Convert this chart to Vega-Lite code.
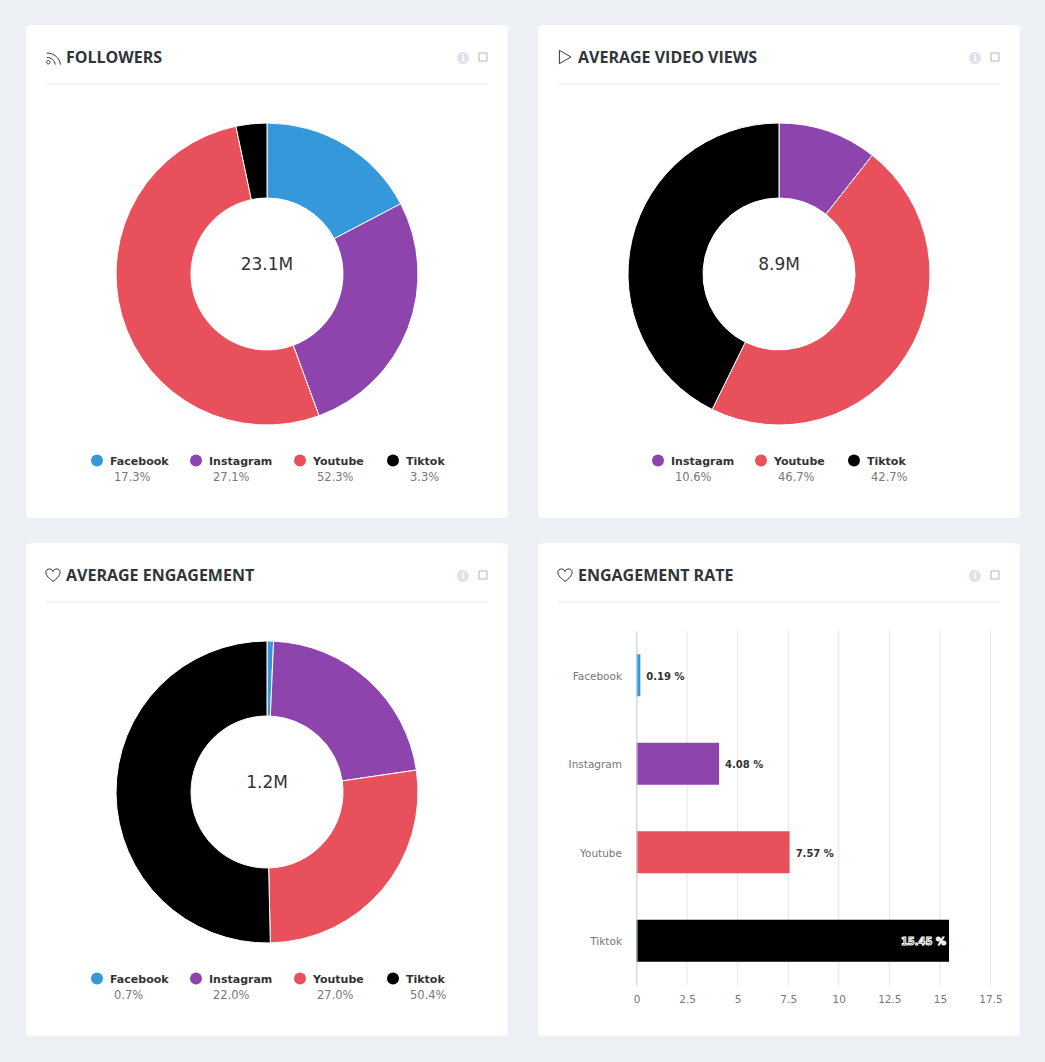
{
"$schema":"https://vega.github.io/schema/vega-lite/v6.json",
"background":"#edf1f6",
"padding":{"left":26,"top":25,"right":25,"bottom":26},
"config":{"font":"DejaVu Sans","view":{"fill":"white","stroke":null,"cornerRadius":4},"title":{"font":"Open Sans","fontSize":16,"fontWeight":"bold","color":"#2f353b","anchor":"start","frame":"group","offset":-41,"dx":40}},
"spacing":25,
"vconcat":[
{"spacing":30,"hconcat":[
{"width":482,"height":493,"title":"FOLLOWERS",
"data":{"values":[{"platform":"Facebook","share":17.3,"shareLabel":"17.3%","rank":1},{"platform":"Instagram","share":27.1,"shareLabel":"27.1%","rank":2},{"platform":"Youtube","share":52.3,"shareLabel":"52.3%","rank":3},{"platform":"Tiktok","share":3.3,"shareLabel":"3.3%","rank":4}]},
"layer":[
{"mark":{"type":"arc","innerRadius":76,"outerRadius":151,"stroke":"white","strokeWidth":1,"yOffset":2.5},"encoding":{"theta":{"field":"share","type":"quantitative","stack":true},"order":{"field":"rank","type":"quantitative"},"color":{"field":"platform","type":"nominal","sort":null,"scale":{"domain":["Facebook","Instagram","Youtube","Tiktok"],"range":["#3498db","#8e44ad","#e8505b","#000000"]},"legend":null}}},
{"mark":{"type":"point","shape":"circle","filled":true,"size":144,"opacity":1,"yOffset":189},"encoding":{"x":{"field":"rank","type":"quantitative","axis":null,"scale":{"domain":[1,2,3,4],"range":[71,170,274,367],"nice":false,"zero":false}},"color":{"field":"platform","type":"nominal","sort":null,"legend":null}}},
{"mark":{"type":"text","align":"left","dx":13,"yOffset":190,"fontSize":11,"fontWeight":"bold","color":"#333333"},"encoding":{"x":{"field":"rank","type":"quantitative","axis":null},"text":{"field":"platform"}}},
{"mark":{"type":"text","align":"left","dx":17,"yOffset":206,"fontSize":11.5,"color":"#777777"},"encoding":{"x":{"field":"rank","type":"quantitative","axis":null},"text":{"field":"shareLabel"}}},
{"data":{"values":[{"total":"23.1M"}]},"mark":{"type":"text","fontSize":17,"color":"#333333","yOffset":-6.5},"encoding":{"text":{"field":"total"}}},
{"data":{"values":[{"chrome":"rule"}]},"mark":{"type":"point","shape":"M-1,0L1,0","size":195364,"stroke":"#e9e9e9","strokeWidth":1,"yOffset":-187.5,"opacity":1},"encoding":{}},
{"data":{"values":[{"chrome":"icon"}]},"mark":{"type":"point","shape":"M-0.87,0.65a0.22,0.22 0 1,0 0.44,0a0.22,0.22 0 1,0 -0.44,0M-0.85,0.05C-0.3,0.05 0.15,0.4 0.2,0.95M-0.85,-0.5C0,-0.5 0.8,0.1 0.85,0.95","size":256,"stroke":"#2f353b","strokeWidth":1,"xOffset":-213.5,"yOffset":-214.5,"opacity":1},"encoding":{}},
{"data":{"values":[{"chrome":"info"}]},"mark":{"type":"point","shape":"circle","size":144,"filled":true,"fill":"#dce3ec","opacity":1,"xOffset":196,"yOffset":-213.5},"encoding":{}},
{"data":{"values":[{"chrome":"i"}]},"mark":{"type":"text","fontSize":9,"fontWeight":"bold","color":"white","xOffset":196,"yOffset":-213.5},"encoding":{"text":{"value":"i"}}},
{"data":{"values":[{"chrome":"box"}]},"mark":{"type":"point","shape":"square","size":64,"stroke":"#b5b5b5","strokeWidth":1,"opacity":1,"xOffset":216,"yOffset":-214.5},"encoding":{}}
]},
{"width":482,"height":493,"title":"AVERAGE VIDEO VIEWS",
"data":{"values":[{"platform":"Instagram","share":10.6,"shareLabel":"10.6%","rank":1},{"platform":"Youtube","share":46.7,"shareLabel":"46.7%","rank":2},{"platform":"Tiktok","share":42.7,"shareLabel":"42.7%","rank":3}]},
"layer":[
{"mark":{"type":"arc","innerRadius":76,"outerRadius":151,"stroke":"white","strokeWidth":1,"yOffset":2.5},"encoding":{"theta":{"field":"share","type":"quantitative","stack":true},"order":{"field":"rank","type":"quantitative"},"color":{"field":"platform","type":"nominal","sort":null,"scale":{"domain":["Instagram","Youtube","Tiktok"],"range":["#8e44ad","#e8505b","#000000"]},"legend":null}}},
{"mark":{"type":"point","shape":"circle","filled":true,"size":144,"opacity":1,"yOffset":189},"encoding":{"x":{"field":"rank","type":"quantitative","axis":null,"scale":{"domain":[1,2,3],"range":[120,223,316],"nice":false,"zero":false}},"color":{"field":"platform","type":"nominal","sort":null,"legend":null}}},
{"mark":{"type":"text","align":"left","dx":13,"yOffset":190,"fontSize":11,"fontWeight":"bold","color":"#333333"},"encoding":{"x":{"field":"rank","type":"quantitative","axis":null},"text":{"field":"platform"}}},
{"mark":{"type":"text","align":"left","dx":17,"yOffset":206,"fontSize":11.5,"color":"#777777"},"encoding":{"x":{"field":"rank","type":"quantitative","axis":null},"text":{"field":"shareLabel"}}},
{"data":{"values":[{"total":"8.9M"}]},"mark":{"type":"text","fontSize":17,"color":"#333333","yOffset":-6.5},"encoding":{"text":{"field":"total"}}},
{"data":{"values":[{"chrome":"rule"}]},"mark":{"type":"point","shape":"M-1,0L1,0","size":195364,"stroke":"#e9e9e9","strokeWidth":1,"yOffset":-187.5,"opacity":1},"encoding":{}},
{"data":{"values":[{"chrome":"icon"}]},"mark":{"type":"point","shape":"M-0.8,-0.95L0.85,0L-0.8,0.95Z","size":196,"stroke":"#2f353b","strokeWidth":1,"xOffset":-214,"yOffset":-214.5,"opacity":1},"encoding":{}},
{"data":{"values":[{"chrome":"info"}]},"mark":{"type":"point","shape":"circle","size":144,"filled":true,"fill":"#dce3ec","opacity":1,"xOffset":196,"yOffset":-213.5},"encoding":{}},
{"data":{"values":[{"chrome":"i"}]},"mark":{"type":"text","fontSize":9,"fontWeight":"bold","color":"white","xOffset":196,"yOffset":-213.5},"encoding":{"text":{"value":"i"}}},
{"data":{"values":[{"chrome":"box"}]},"mark":{"type":"point","shape":"square","size":64,"stroke":"#b5b5b5","strokeWidth":1,"opacity":1,"xOffset":216,"yOffset":-214.5},"encoding":{}}
]}
]},
{"spacing":30,"hconcat":[
{"width":482,"height":493,"title":"AVERAGE ENGAGEMENT",
"data":{"values":[{"platform":"Facebook","share":0.7,"shareLabel":"0.7%","rank":1},{"platform":"Instagram","share":22.0,"shareLabel":"22.0%","rank":2},{"platform":"Youtube","share":27.0,"shareLabel":"27.0%","rank":3},{"platform":"Tiktok","share":50.4,"shareLabel":"50.4%","rank":4}]},
"layer":[
{"mark":{"type":"arc","innerRadius":76,"outerRadius":151,"stroke":"white","strokeWidth":1,"yOffset":2.5},"encoding":{"theta":{"field":"share","type":"quantitative","stack":true},"order":{"field":"rank","type":"quantitative"},"color":{"field":"platform","type":"nominal","sort":null,"scale":{"domain":["Facebook","Instagram","Youtube","Tiktok"],"range":["#3498db","#8e44ad","#e8505b","#000000"]},"legend":null}}},
{"mark":{"type":"point","shape":"circle","filled":true,"size":144,"opacity":1,"yOffset":189},"encoding":{"x":{"field":"rank","type":"quantitative","axis":null,"scale":{"domain":[1,2,3,4],"range":[71,170,274,367],"nice":false,"zero":false}},"color":{"field":"platform","type":"nominal","sort":null,"legend":null}}},
{"mark":{"type":"text","align":"left","dx":13,"yOffset":190,"fontSize":11,"fontWeight":"bold","color":"#333333"},"encoding":{"x":{"field":"rank","type":"quantitative","axis":null},"text":{"field":"platform"}}},
{"mark":{"type":"text","align":"left","dx":17,"yOffset":206,"fontSize":11.5,"color":"#777777"},"encoding":{"x":{"field":"rank","type":"quantitative","axis":null},"text":{"field":"shareLabel"}}},
{"data":{"values":[{"total":"1.2M"}]},"mark":{"type":"text","fontSize":17,"color":"#333333","yOffset":-6.5},"encoding":{"text":{"field":"total"}}},
{"data":{"values":[{"chrome":"rule"}]},"mark":{"type":"point","shape":"M-1,0L1,0","size":195364,"stroke":"#e9e9e9","strokeWidth":1,"yOffset":-187.5,"opacity":1},"encoding":{}},
{"data":{"values":[{"chrome":"icon"}]},"mark":{"type":"point","shape":"M0,0.85C-1.4,-0.1 -1,-0.9 -0.4,-0.8C-0.15,-0.78 0,-0.55 0,-0.45C0,-0.55 0.15,-0.78 0.4,-0.8C1,-0.9 1.4,-0.1 0,0.85Z","size":225,"stroke":"#2f353b","strokeWidth":1,"xOffset":-214,"yOffset":-214.5,"opacity":1},"encoding":{}},
{"data":{"values":[{"chrome":"info"}]},"mark":{"type":"point","shape":"circle","size":144,"filled":true,"fill":"#dce3ec","opacity":1,"xOffset":196,"yOffset":-213.5},"encoding":{}},
{"data":{"values":[{"chrome":"i"}]},"mark":{"type":"text","fontSize":9,"fontWeight":"bold","color":"white","xOffset":196,"yOffset":-213.5},"encoding":{"text":{"value":"i"}}},
{"data":{"values":[{"chrome":"box"}]},"mark":{"type":"point","shape":"square","size":64,"stroke":"#b5b5b5","strokeWidth":1,"opacity":1,"xOffset":216,"yOffset":-214.5},"encoding":{}}
]},
{"width":482,"height":493,"title":"ENGAGEMENT RATE",
"data":{"values":[{"platform":"Facebook","rate":0.19,"rateLabel":"0.19 %"},{"platform":"Instagram","rate":4.08,"rateLabel":"4.08 %"},{"platform":"Youtube","rate":7.57,"rateLabel":"7.57 %"},{"platform":"Tiktok","rate":15.45,"rateLabel":"15.45 %"}]},
"layer":[
{"data":{"values":[{"chrome":"card"}]},"mark":{"type":"point","shape":"M-0.96,-0.998L0.96,-0.998Q0.976,-0.998 0.976,-0.982L0.976,0.982Q0.976,0.998 0.96,0.998L-0.96,0.998Q-0.976,0.998 -0.976,0.982L-0.976,-0.982Q-0.976,-0.998 -0.96,-0.998Z","size":243049,"filled":true,"fill":"white","opacity":1},"encoding":{}},
{"data":{"values":[{"tick":0},{"tick":2.5},{"tick":5},{"tick":7.5},{"tick":10},{"tick":12.5},{"tick":15},{"tick":17.5}]},"mark":{"type":"point","shape":"M0,-1L0,1","size":125316,"stroke":"#e6e6e6","strokeWidth":1,"opacity":1,"yOffset":18.5},"encoding":{"x":{"field":"tick","type":"quantitative"}}},
{"mark":{"type":"bar"},"encoding":{
"x":{"field":"rate","type":"quantitative","scale":{"domain":[0,17.5],"range":[98.5,452.5],"nice":false},"axis":{"title":null,"values":[0,2.5,5,7.5,10,12.5,15,17.5],"format":".3~g","grid":false,"ticks":false,"domain":false,"labelFontSize":10.5,"labelColor":"#777777","labelPadding":-42,"labelOverlap":false,"labelFlush":false,"zindex":1}},
"y":{"field":"platform","type":"nominal","sort":null,"scale":{"range":[88,442],"paddingInner":0.525,"paddingOuter":0.2625},"axis":{"title":null,"ticks":false,"grid":false,"domain":true,"domainColor":"#c5d7ea","domainWidth":1,"offset":-98.5,"labelFontSize":10.5,"labelColor":"#777777","labelPadding":15,"labelOffset":1.5,"zindex":1}},
"color":{"field":"platform","type":"nominal","sort":null,"scale":{"domain":["Facebook","Instagram","Youtube","Tiktok"],"range":["#3498db","#8e44ad","#e8505b","#000000"]},"legend":null}}},
{"transform":[{"filter":"datum.platform !== 'Tiktok'"}],"mark":{"type":"text","align":"left","dx":6,"dy":1.5,"fontSize":10,"fontWeight":"bold","color":"#333333"},"encoding":{"x":{"field":"rate","type":"quantitative"},"y":{"field":"platform","type":"nominal","sort":null},"text":{"field":"rateLabel"}}},
{"transform":[{"filter":"datum.platform === 'Tiktok'"}],"mark":{"type":"text","align":"right","dx":-3,"dy":1.5,"fontSize":10,"fontWeight":"bold","color":"#333333","stroke":"white","strokeWidth":1},"encoding":{"x":{"field":"rate","type":"quantitative"},"y":{"field":"platform","type":"nominal","sort":null},"text":{"field":"rateLabel"}}},
{"data":{"values":[{"chrome":"rule"}]},"mark":{"type":"point","shape":"M-1,0L1,0","size":195364,"stroke":"#e9e9e9","strokeWidth":1,"yOffset":-187.5,"opacity":1},"encoding":{}},
{"data":{"values":[{"chrome":"icon"}]},"mark":{"type":"point","shape":"M0,0.85C-1.4,-0.1 -1,-0.9 -0.4,-0.8C-0.15,-0.78 0,-0.55 0,-0.45C0,-0.55 0.15,-0.78 0.4,-0.8C1,-0.9 1.4,-0.1 0,0.85Z","size":225,"stroke":"#2f353b","strokeWidth":1,"xOffset":-214,"yOffset":-214.5,"opacity":1},"encoding":{}},
{"data":{"values":[{"chrome":"info"}]},"mark":{"type":"point","shape":"circle","size":144,"filled":true,"fill":"#dce3ec","opacity":1,"xOffset":196,"yOffset":-213.5},"encoding":{}},
{"data":{"values":[{"chrome":"i"}]},"mark":{"type":"text","fontSize":9,"fontWeight":"bold","color":"white","xOffset":196,"yOffset":-213.5},"encoding":{"text":{"value":"i"}}},
{"data":{"values":[{"chrome":"box"}]},"mark":{"type":"point","shape":"square","size":64,"stroke":"#b5b5b5","strokeWidth":1,"opacity":1,"xOffset":216,"yOffset":-214.5},"encoding":{}}
]}
]}
]
}
